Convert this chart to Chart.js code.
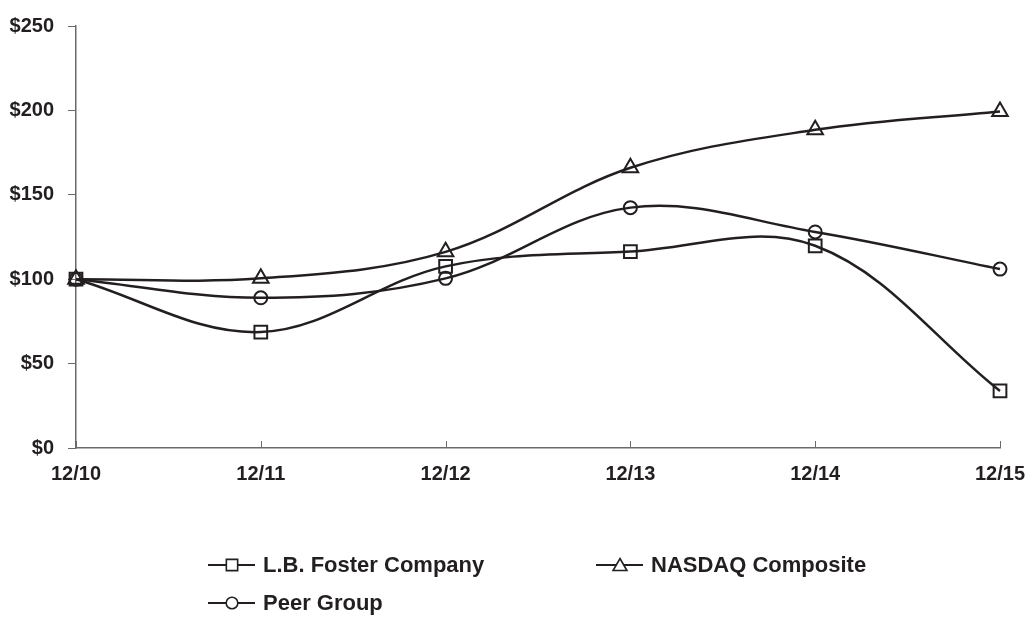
<!DOCTYPE html>
<html>
<head>
<meta charset="utf-8">
<script src="https://cdn.jsdelivr.net/npm/chart.js@4/dist/chart.umd.min.js"></script>
<style>
  html, body { margin: 0; padding: 0; background: #fff; }
  #wrap { width: 1027px; height: 619px; }
</style>
</head>
<body>
<div id="wrap"><canvas id="c" width="1027" height="619"></canvas></div>
<script>
// Data
const years = ['12/10', '12/11', '12/12', '12/13', '12/14', '12/15'];
const fosterValues = [100, 68.7, 107.6, 116.4, 119.8, 33.8];
const nasdaqValues = [100, 100.5, 116.2, 166, 188.5, 199.4];
const peerValues = [100, 89, 100.5, 142.4, 128, 106];
const seriesNames = ['L.B. Foster Company', 'NASDAQ Composite', 'Peer Group'];
const yTicks = [0, 50, 100, 150, 200, 250];

const INK = '#231f20';
const AXIS = '#6a6a6a';
const FONT = '"Liberation Sans", Arial, sans-serif';

function series(label, data, style, radius) {
    return {
        label: label,
        data: data,
        borderColor: INK,
        borderWidth: 2.5,
        backgroundColor: '#fff',
        pointStyle: style,
        pointRadius: radius,
        pointBorderWidth: 2,
        pointBorderColor: INK,
        pointBackgroundColor: 'rgba(255,255,255,0)',
        tension: 0.36,
        fill: false
    };
}

// x ticks point up into the plot, so draw them ourselves
const innerTicks = {
    id: 'innerTicks',
    afterDatasetsDraw(chart) {
        const ctx = chart.ctx;
        const x = chart.scales.x;
        const bottom = chart.chartArea.bottom;
        ctx.save();
        ctx.strokeStyle = AXIS;
        ctx.lineWidth = 1;
        x.ticks.forEach((t, i) => {
            const px = Math.round(x.getPixelForTick(i)) + 0.5;
            ctx.beginPath();
            ctx.moveTo(px, bottom);
            ctx.lineTo(px, bottom - 7);
            ctx.stroke();
        });
        ctx.restore();
    }
};

// two-column legend below the plot
const gridLegend = {
    id: 'gridLegend',
    afterDraw(chart) {
        const ctx = chart.ctx;
        const slots = [[208, 565], [596, 565], [208, 603]];
        ctx.save();
        chart.data.datasets.forEach((ds, i) => {
            const [lx, ly] = slots[i];
            ctx.strokeStyle = INK;
            ctx.lineWidth = 1.8;
            ctx.beginPath();
            ctx.moveTo(lx, ly);
            ctx.lineTo(lx + 47, ly);
            ctx.stroke();
            ctx.fillStyle = '#fff';
            ctx.lineWidth = 1.6;
            Chart.helpers.drawPoint(ctx, {
                pointStyle: ds.pointStyle,
                radius: ds.pointStyle === 'circle' ? 5.8 : 8,
                rotation: 0,
                borderWidth: 1.6
            }, lx + 24, ds.pointStyle === 'triangle' ? ly + 1.5 : ly);
            ctx.fillStyle = INK;
            ctx.font = 'bold 22px ' + FONT;
            ctx.textBaseline = 'middle';
            ctx.textAlign = 'left';
            ctx.fillText(ds.label, lx + 55, ly + 1);
        });
        ctx.restore();
    }
};

new Chart(document.getElementById('c'), {
    type: 'line',
    data: {
        labels: years,
        datasets: [
            series(seriesNames[0], fosterValues, 'rect', 9),
            series(seriesNames[1], nasdaqValues, 'triangle', 9),
            series(seriesNames[2], peerValues, 'circle', 6.5)
        ]
    },
    options: {
        responsive: false,
        animation: false,
        devicePixelRatio: 1,
        layout: { padding: { left: 0, right: 27, top: 24, bottom: 0 } },
        plugins: {
            legend: { display: false },
            tooltip: { enabled: false }
        },
        scales: {
            x: {
                type: 'category',
                offset: false,
                afterFit: s => { s.height = 171; s.paddingLeft = 0; s.paddingRight = 0; },
                border: { display: true, color: AXIS, width: 1.5 },
                grid: { display: true, drawOnChartArea: false, drawTicks: false },
                ticks: {
                    color: INK,
                    font: { family: FONT, size: 20, weight: 'bold' },
                    padding: 14,
                    maxRotation: 0,
                    autoSkip: false
                }
            },
            y: {
                min: 0,
                max: 250,
                afterFit: s => { s.width = 76; },
                afterBuildTicks: s => { s.ticks = yTicks.map(v => ({ value: v })); },
                border: { display: true, color: AXIS, width: 1.5 },
                grid: { display: true, drawOnChartArea: false, drawTicks: true, tickLength: 8, color: AXIS },
                ticks: {
                    color: INK,
                    font: { family: FONT, size: 20, weight: 'bold' },
                    padding: 14,
                    callback: v => '$' + v
                }
            }
        }
    },
    plugins: [innerTicks, gridLegend]
});
</script>
</body>
</html>
